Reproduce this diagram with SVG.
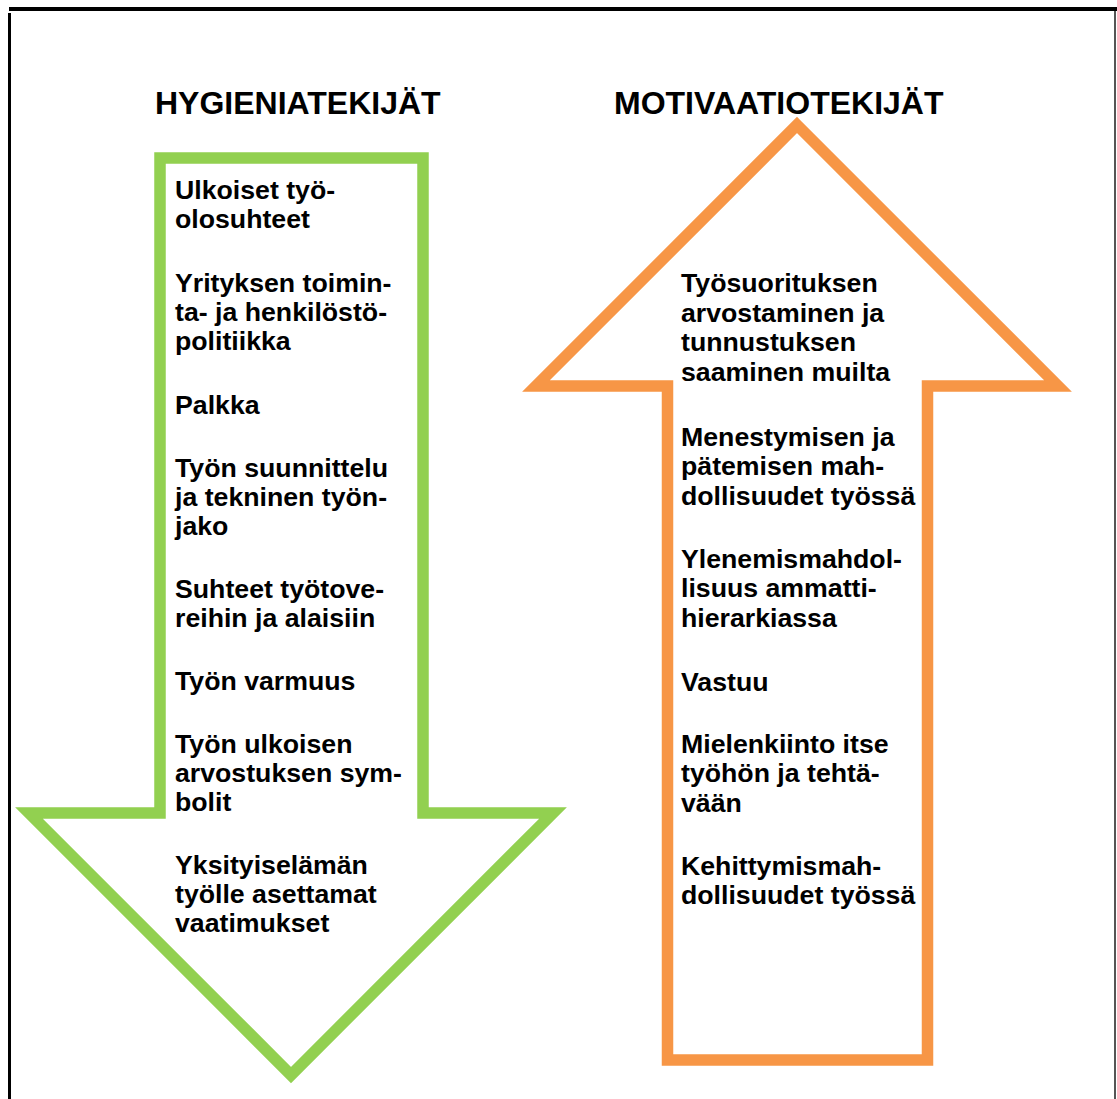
<svg xmlns="http://www.w3.org/2000/svg" width="1117" height="1099" viewBox="0 0 1117 1099">
  <style>
    .title { font-family: "Liberation Sans", Arial, sans-serif; font-weight: bold; font-size: 32px; fill: #000; }
    .item { font-family: "Liberation Sans", Arial, sans-serif; font-weight: bold; font-size: 26.7px; fill: #000; }
    .hyg { fill: #fff; stroke: #92D050; stroke-width: 11.5; stroke-linejoin: miter; }
    .mot { fill: #fff; stroke: #F79646; stroke-width: 11.5; stroke-linejoin: miter; }
  </style>
  <rect width="1117" height="1099" fill="#fff"/>

  <!-- page frame -->
  <g id="frame">
    <rect x="9" y="7" width="1108" height="4" fill="#000"/>
    <rect x="8" y="13" width="3" height="1086" fill="#000"/>
    <rect x="1114" y="11" width="2" height="1088" fill="#555"/>
  </g>

  <!-- headings -->
  <g id="heading-hygiene">
    <text class="title" x="155" y="114">HYGIENIATEKIJÄT</text>
  </g>
  <g id="heading-motivation">
    <text class="title" x="614" y="114">MOTIVAATIOTEKIJÄT</text>
  </g>

  <!-- downward arrow: hygiene factors -->
  <g id="arrow-hygiene">
    <polygon class="hyg" points="160,158 423,158 423,813 553,813 291,1075 29,813 160,813"/>
  </g>

  <!-- upward arrow: motivation factors -->
  <g id="arrow-motivation">
    <polygon class="mot" points="797,125 1058,386 927.5,386 927.5,1060 667.5,1060 667.5,386 536,386"/>
  </g>

  <g id="hygiene-items" class="item">
    <text id="h1"><tspan x="175" y="199">Ulkoiset työ-</tspan><tspan x="175" y="228">olosuhteet</tspan></text>
    <text id="h2"><tspan x="175" y="292">Yrityksen toimin-</tspan><tspan x="175" y="321">ta- ja henkilöstö-</tspan><tspan x="175" y="350">politiikka</tspan></text>
    <text id="h3"><tspan x="175" y="414">Palkka</tspan></text>
    <text id="h4"><tspan x="175" y="477">Työn suunnittelu</tspan><tspan x="175" y="506">ja tekninen työn-</tspan><tspan x="175" y="535">jako</tspan></text>
    <text id="h5"><tspan x="175" y="598">Suhteet työtove-</tspan><tspan x="175" y="627">reihin ja alaisiin</tspan></text>
    <text id="h6"><tspan x="175" y="690">Työn varmuus</tspan></text>
    <text id="h7"><tspan x="175" y="753">Työn ulkoisen</tspan><tspan x="175" y="782">arvostuksen sym-</tspan><tspan x="175" y="811">bolit</tspan></text>
    <text id="h8"><tspan x="175" y="874">Yksityiselämän</tspan><tspan x="175" y="903">työlle asettamat</tspan><tspan x="175" y="932">vaatimukset</tspan></text>
  </g>

  <g id="motivation-items" class="item">
    <text id="m1"><tspan x="681" y="292">Työsuorituksen</tspan><tspan x="681" y="322">arvostaminen ja</tspan><tspan x="681" y="351">tunnustuksen</tspan><tspan x="681" y="381">saaminen muilta</tspan></text>
    <text id="m2"><tspan x="681" y="446">Menestymisen ja</tspan><tspan x="681" y="475">pätemisen mah-</tspan><tspan x="681" y="505">dollisuudet työssä</tspan></text>
    <text id="m3"><tspan x="681" y="568">Ylenemismahdol-</tspan><tspan x="681" y="597">lisuus ammatti-</tspan><tspan x="681" y="627">hierarkiassa</tspan></text>
    <text id="m4"><tspan x="681" y="691">Vastuu</tspan></text>
    <text id="m5"><tspan x="681" y="753">Mielenkiinto itse</tspan><tspan x="681" y="782">työhön ja tehtä-</tspan><tspan x="681" y="812">vään</tspan></text>
    <text id="m6"><tspan x="681" y="875">Kehittymismah-</tspan><tspan x="681" y="904">dollisuudet työssä</tspan></text>
  </g>
</svg>
